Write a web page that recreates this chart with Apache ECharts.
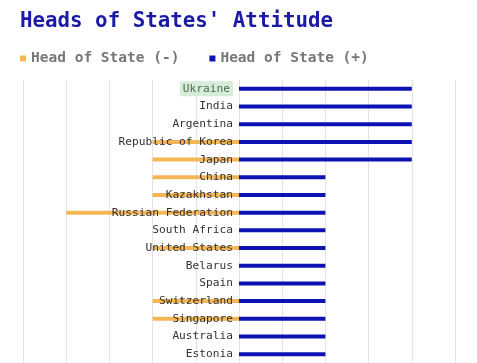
<!DOCTYPE html>
<html><head><meta charset="utf-8">
<script src="https://cdn.jsdelivr.net/npm/echarts@6/dist/echarts.min.js"></script>
<style>html,body{margin:0;padding:0;background:#fff}#c{width:477px;height:363px}</style>
</head><body><div id="c"></div>
<script>
const categories = ['Ukraine','India','Argentina','Republic of Korea','Japan','China','Kazakhstan','Russian Federation','South Africa','United States','Belarus','Spain','Switzerland','Singapore','Australia','Estonia'];
const negValues = [0,0,0,-2,-2,-2,-2,-4,0,-2,0,0,-2,-2,0,0];
const posValues = [4,4,4,4,4,2,2,2,2,2,2,2,2,2,2,2];
const seriesNames = ['Head of State (-)','Head of State (+)'];
const highlighted = 'Ukraine';

const FONT = '"DejaVu Sans Mono", "Liberation Mono", monospace';
const chart = echarts.init(document.getElementById('c'), null, {renderer:'canvas'});
chart.setOption({
  animation:false,
  title:{text:"Heads of States' Attitude", left:15, top:6,
    textStyle:{fontFamily:FONT, fontWeight:'bold', fontSize:20.8, color:'#1a1aa6'}},
  legend:{left:15, top:46, itemWidth:6, itemHeight:6, itemGap:30, icon:'rect',
    textStyle:{fontFamily:FONT, fontWeight:'bold', fontSize:14.5, color:'#777', padding:[0,0,0,0]},
    data:seriesNames},
  grid:{left:23, right:22, top:80, bottom:0, containLabel:false, outerBoundsMode:'none'},
  xAxis:{type:'value', min:-5, max:5, interval:1, position:'top',
    axisLabel:{show:false}, axisTick:{show:false}, axisLine:{show:false},
    splitLine:{lineStyle:{color:'#e3e3e3', width:1}}},
  yAxis:{type:'category', data:categories, inverse:true, z:5, offset:-216,
    axisLine:{show:false, onZero:false}, axisTick:{show:false},
    axisLabel:{margin:6, fontFamily:FONT, fontSize:11.2, color:'#333',
      formatter:function(v){return v===highlighted ? '{hl|'+v+'}' : v;},
      rich:{hl:{backgroundColor:'#d6ecd8', color:'#4d6b50', padding:[2,3,2,3], fontFamily:FONT, fontSize:11.2}}}},
  series:[
    {name:seriesNames[0], type:'bar', data:negValues, barWidth:4, barGap:'-100%',
      itemStyle:{color:'#f5b656'}},
    {name:seriesNames[1], type:'bar', data:posValues, barWidth:4,
      itemStyle:{color:'#0d12b3'}}
  ]
});
</script></body></html>
